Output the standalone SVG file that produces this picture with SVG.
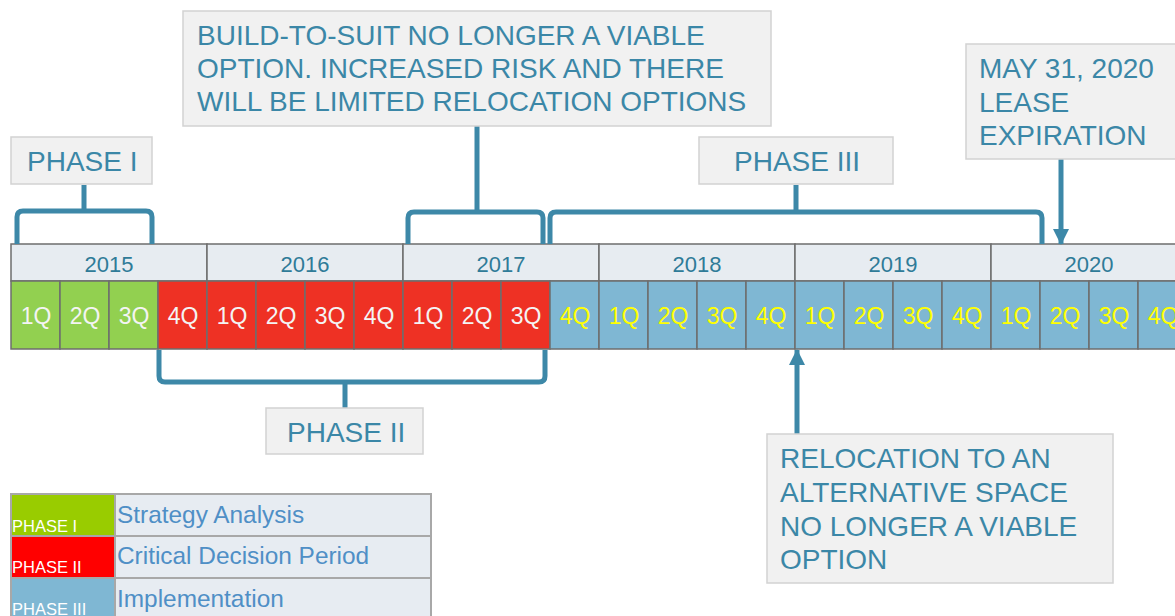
<svg xmlns="http://www.w3.org/2000/svg" width="1175" height="616" viewBox="0 0 1175 616">
<defs>
<style>
.box{fill:#f1f1f1;stroke:#d2d2d2;stroke-width:1.5}
.ct{font-family:"Liberation Sans",Arial,sans-serif;font-size:28px;fill:#3b87a7}
.yr{fill:#e7ecf1;stroke:#6e6e6e;stroke-width:1.5}
.yt{font-family:"Liberation Sans",Arial,sans-serif;font-size:22px;fill:#2f7b98;text-anchor:middle}
.q{stroke:#6e6e6e;stroke-width:1.5}
.g{fill:#92d050}.r{fill:#ee3124}.b{fill:#7fb7d3}
.qt{font-family:"Liberation Sans",Arial,sans-serif;font-size:23px;text-anchor:middle}
.w{fill:#f4f4f4}.y{fill:#ffff00}
.br{fill:none;stroke:#3d88a8;stroke-width:5;stroke-linejoin:round;stroke-linecap:butt}
.lg{stroke:#a8a8a8;stroke-width:2}
.lt{font-family:"Liberation Sans",Arial,sans-serif;font-size:24.4px;fill:#4f8fc6}
.ls{font-family:"Liberation Sans",Arial,sans-serif;font-size:16.5px;fill:#ffffff}
</style>
<marker id="ah" markerUnits="userSpaceOnUse" markerWidth="16" markerHeight="16" viewBox="0 0 16 16" refX="15" refY="8" orient="auto">
<path d="M0,0 L16,8 L0,16 Z" fill="#3d88a8"/>
</marker>
</defs>

<g id="timeline">
<rect class="yr" x="11" y="244" width="196" height="37"/>
<rect class="yr" x="207" y="244" width="196" height="37"/>
<rect class="yr" x="403" y="244" width="196" height="37"/>
<rect class="yr" x="599" y="244" width="196" height="37"/>
<rect class="yr" x="795" y="244" width="196" height="37"/>
<rect class="yr" x="991" y="244" width="196" height="37"/>
<text class="yt" x="109" y="272">2015</text>
<text class="yt" x="305" y="272">2016</text>
<text class="yt" x="501" y="272">2017</text>
<text class="yt" x="697" y="272">2018</text>
<text class="yt" x="893" y="272">2019</text>
<text class="yt" x="1089" y="272">2020</text>

<rect class="q g" x="11" y="281" width="49" height="68"/>
<rect class="q g" x="60" y="281" width="49" height="68"/>
<rect class="q g" x="109" y="281" width="49" height="68"/>
<rect class="q r" x="158" y="281" width="49" height="68"/>
<rect class="q r" x="207" y="281" width="49" height="68"/>
<rect class="q r" x="256" y="281" width="49" height="68"/>
<rect class="q r" x="305" y="281" width="49" height="68"/>
<rect class="q r" x="354" y="281" width="49" height="68"/>
<rect class="q r" x="403" y="281" width="49" height="68"/>
<rect class="q r" x="452" y="281" width="49" height="68"/>
<rect class="q r" x="501" y="281" width="49" height="68"/>
<rect class="q b" x="550" y="281" width="49" height="68"/>
<rect class="q b" x="599" y="281" width="49" height="68"/>
<rect class="q b" x="648" y="281" width="49" height="68"/>
<rect class="q b" x="697" y="281" width="49" height="68"/>
<rect class="q b" x="746" y="281" width="49" height="68"/>
<rect class="q b" x="795" y="281" width="49" height="68"/>
<rect class="q b" x="844" y="281" width="49" height="68"/>
<rect class="q b" x="893" y="281" width="49" height="68"/>
<rect class="q b" x="942" y="281" width="49" height="68"/>
<rect class="q b" x="991" y="281" width="49" height="68"/>
<rect class="q b" x="1040" y="281" width="49" height="68"/>
<rect class="q b" x="1089" y="281" width="49" height="68"/>
<rect class="q b" x="1138" y="281" width="49" height="68"/>

<text class="qt w" x="36" y="324">1Q</text>
<text class="qt w" x="85" y="324">2Q</text>
<text class="qt w" x="134" y="324">3Q</text>
<text class="qt w" x="183" y="324">4Q</text>
<text class="qt w" x="232" y="324">1Q</text>
<text class="qt w" x="281" y="324">2Q</text>
<text class="qt w" x="330" y="324">3Q</text>
<text class="qt w" x="379" y="324">4Q</text>
<text class="qt w" x="428" y="324">1Q</text>
<text class="qt w" x="477" y="324">2Q</text>
<text class="qt w" x="526" y="324">3Q</text>
<text class="qt y" x="575" y="324">4Q</text>
<text class="qt y" x="624" y="324">1Q</text>
<text class="qt y" x="673" y="324">2Q</text>
<text class="qt y" x="722" y="324">3Q</text>
<text class="qt y" x="771" y="324">4Q</text>
<text class="qt y" x="820" y="324">1Q</text>
<text class="qt y" x="869" y="324">2Q</text>
<text class="qt y" x="918" y="324">3Q</text>
<text class="qt y" x="967" y="324">4Q</text>
<text class="qt y" x="1016" y="324">1Q</text>
<text class="qt y" x="1065" y="324">2Q</text>
<text class="qt y" x="1114" y="324">3Q</text>
<text class="qt y" x="1163" y="324">4Q</text>
</g>

<g id="connectors">
<path class="br" d="M17,244 V217 Q17,211 23,211 H146 Q152,211 152,217 V244 M84,211 V185"/>
<path class="br" d="M408,244 V218 Q408,212 414,212 H537 Q543,212 543,218 V244 M477,212 V126"/>
<path class="br" d="M550,244 V218 Q550,212 556,212 H1036 Q1042,212 1042,218 V244 M796,212 V185"/>
<path class="br" d="M159,350 V376 Q159,382 165,382 H539 Q545,382 545,376 V350 M345,382 V408"/>
<line class="br" x1="1061" y1="159" x2="1061" y2="244" marker-end="url(#ah)"/>
<line class="br" x1="797" y1="434" x2="797" y2="350" marker-end="url(#ah)"/>
</g>

<g id="phase1">
<rect class="box" x="11" y="137" width="141" height="47"/>
<text class="ct" x="27" y="171">PHASE I</text>
</g>

<g id="buildtosuit">
<rect class="box" x="183" y="11" width="588" height="115"/>
<text class="ct" x="197" y="45">BUILD-TO-SUIT NO LONGER A VIABLE</text>
<text class="ct" x="197" y="78">OPTION. INCREASED RISK AND THERE</text>
<text class="ct" x="197" y="111">WILL BE LIMITED RELOCATION OPTIONS</text>
</g>

<g id="phase3">
<rect class="box" x="699" y="137" width="194" height="47"/>
<text class="ct" x="734" y="171">PHASE III</text>
</g>

<g id="lease">
<rect class="box" x="966" y="44" width="210" height="115"/>
<text class="ct" x="979" y="78">MAY 31, 2020</text>
<text class="ct" x="979" y="112">LEASE</text>
<text class="ct" x="979" y="145">EXPIRATION</text>
</g>

<g id="phase2">
<rect class="box" x="266" y="408" width="157" height="46"/>
<text class="ct" x="287" y="442">PHASE II</text>
</g>

<g id="relocation">
<rect class="box" x="767" y="434" width="346" height="149"/>
<text class="ct" x="780" y="468">RELOCATION TO AN</text>
<text class="ct" x="780" y="502">ALTERNATIVE SPACE</text>
<text class="ct" x="780" y="536">NO LONGER A VIABLE</text>
<text class="ct" x="780" y="569">OPTION</text>
</g>

<g id="legend">
<rect class="lg" x="11" y="494" width="104" height="42" fill="#99cc00"/>
<rect class="lg" x="115" y="494" width="316" height="42" fill="#e7ecf2"/>
<rect class="lg" x="11" y="536" width="104" height="42" fill="#ff0000"/>
<rect class="lg" x="115" y="536" width="316" height="42" fill="#e7ecf2"/>
<rect class="lg" x="11" y="578" width="104" height="42" fill="#7fb7d3"/>
<rect class="lg" x="115" y="578" width="316" height="42" fill="#e7ecf2"/>
<text class="ls" x="12" y="532">PHASE I</text>
<text class="ls" x="12" y="573">PHASE II</text>
<text class="ls" x="12" y="615">PHASE III</text>
<text class="lt" x="117" y="523">Strategy Analysis</text>
<text class="lt" x="117" y="564">Critical Decision Period</text>
<text class="lt" x="117" y="607">Implementation</text>
</g>
</svg>
